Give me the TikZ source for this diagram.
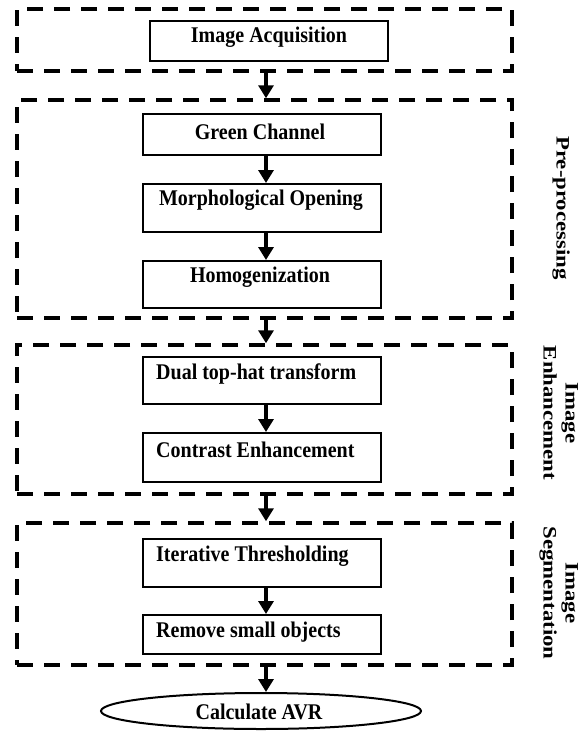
\documentclass[tikz,border=0pt]{standalone}
\usepackage{fontspec}
\setmainfont{Liberation Serif}
\usetikzlibrary{arrows.meta,shapes.geometric}
\newcommand{\boxtxt}[1]{\scalebox{1}[1.12]{#1}}
\newcommand{\sidetxt}[1]{\scalebox{1.2}[1]{#1}}
\begin{document}
\begin{tikzpicture}[x=1pt,y=1pt,
  grp/.style={draw, line width=3.5pt, dash pattern=on 16pt off 11pt, inner sep=0pt},
  stepbox/.style={draw, line width=2pt, inner sep=0pt},
  boxtext/.style={font=\fontsize{20}{24}\selectfont\bfseries, inner sep=0pt},
  sidelabel/.style={rotate=-90, font=\fontsize{19}{22}\selectfont\bfseries, inner sep=0pt, align=center},
  arr/.style={line width=3.5pt, -{Triangle[width=15pt,length=13pt]}}
]
\useasboundingbox (0,0) rectangle (581,-731);

% dashed groups
\node[grp, minimum width=495pt, minimum height=62pt] (g1) at (264.5,-40) {};
\node[grp, minimum width=495pt, minimum height=218pt] (g2) at (264.5,-209) {};
\node[grp, minimum width=495pt, minimum height=149pt] (g3) at (264.5,-419.5) {};
\node[grp, minimum width=495pt, minimum height=142pt] (g4) at (264.5,-594) {};

% boxes
\node[stepbox, minimum width=238pt, minimum height=40pt] (acq) at (269,-41) {};
\node[boxtext] (acqt) at (269,-37) {\boxtxt{Image Acquisition}};

\node[stepbox, minimum width=238pt, minimum height=41pt] (green) at (262,-134.5) {};
\node[boxtext] (greent) at (260,-132) {\boxtxt{Green Channel}};

\node[stepbox, minimum width=238pt, minimum height=48pt] (morph) at (262,-208) {};
\node[boxtext] (morpht) at (261,-200) {\boxtxt{Morphological Opening}};

\node[stepbox, minimum width=238pt, minimum height=47pt] (homog) at (262,-284.5) {};
\node[boxtext] (homogt) at (260,-277) {\boxtxt{Homogenization}};

\node[stepbox, minimum width=238pt, minimum height=47pt] (dual) at (262,-380.5) {};
\node[boxtext, anchor=west] (dualt) at (156,-374) {\boxtxt{Dual top-hat transform}};

\node[stepbox, minimum width=238pt, minimum height=49pt] (contr) at (262,-457.5) {};
\node[boxtext, anchor=west] (contrt) at (156,-450) {\boxtxt{Contrast Enhancement}};

\node[stepbox, minimum width=238pt, minimum height=48pt] (iter) at (262,-563) {};
\node[boxtext, anchor=west] (itert) at (156,-556) {\boxtxt{Iterative Thresholding}};

\node[stepbox, minimum width=238pt, minimum height=39pt] (remove) at (262,-634.5) {};
\node[boxtext, anchor=west] (removet) at (156,-632) {\boxtxt{Remove small objects}};

\node[draw, line width=2pt, ellipse, minimum width=320pt, minimum height=36pt, inner sep=0pt] (avr) at (261,-711) {};
\node[boxtext] (avrt) at (259,-712) {\boxtxt{Calculate AVR}};

% side labels
\node[sidelabel] (lpre) at (561,-208) {\sidetxt{Pre-processing}};
\node[sidelabel] (lenh) at (559,-413) {\sidetxt{\begin{tabular}{@{}c@{}}Image\\Enhancement\end{tabular}}};
\node[sidelabel] (lseg) at (559,-593) {\sidetxt{\begin{tabular}{@{}c@{}}Image\\Segmentation\end{tabular}}};

% arrows
\coordinate (ax) at (266,0);
\draw[arr] (g1.south -| ax) -- (g2.north -| ax);
\draw[arr] (green.south -| ax) -- (morph.north -| ax);
\draw[arr] (morph.south -| ax) -- (homog.north -| ax);
\draw[arr] (g2.south -| ax) -- (g3.north -| ax);
\draw[arr] (dual.south -| ax) -- (contr.north -| ax);
\draw[arr] (g3.south -| ax) -- (g4.north -| ax);
\draw[arr] (iter.south -| ax) -- (remove.north -| ax);
\draw[arr] (g4.south -| ax) -- (avr.north -| ax);
\end{tikzpicture}
\end{document}
